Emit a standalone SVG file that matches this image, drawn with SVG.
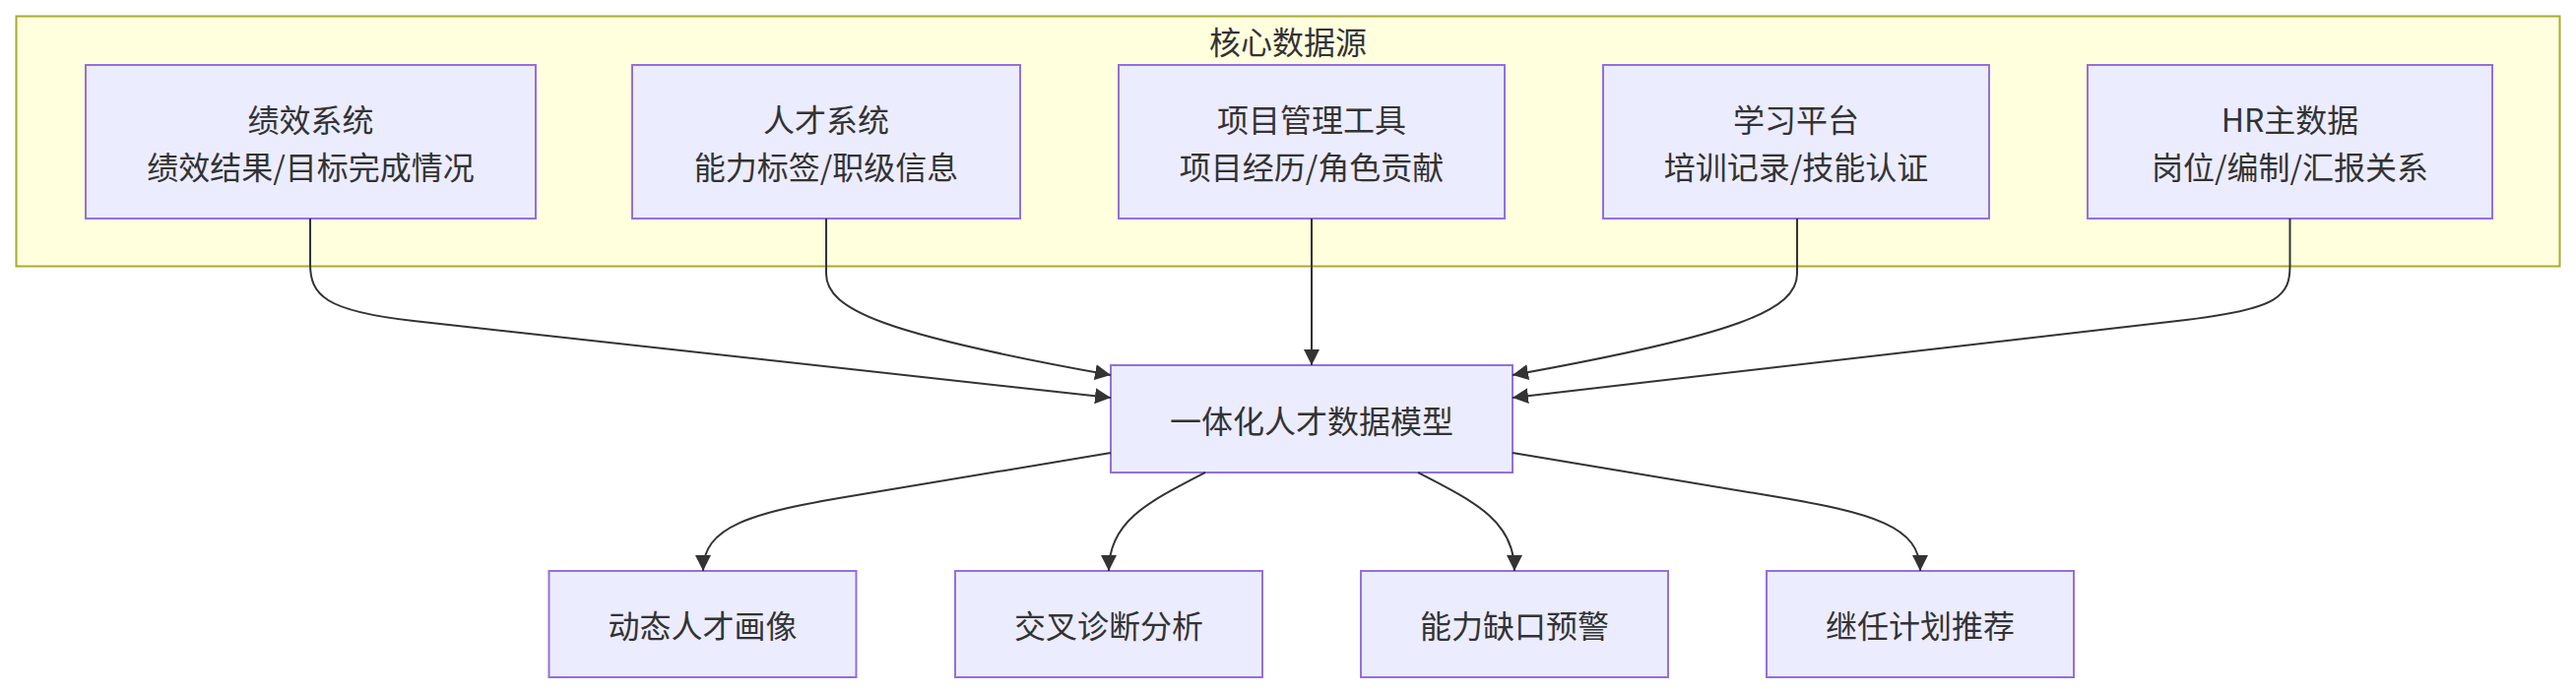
<svg xmlns="http://www.w3.org/2000/svg" width="2616" height="704" viewBox="0 0 2616 704">
<defs>
<style>
.cluster{fill:#ffffde;stroke:#aaaa33;stroke-width:2}
.node rect{fill:#ECECFF;stroke:#9370DB;stroke-width:2}
text{font-family:"Noto Sans CJK SC","Liberation Sans",sans-serif;font-size:32px;fill:#333;text-anchor:middle;dominant-baseline:central}
.edge{fill:none;stroke:#333;stroke-width:2;marker-end:url(#arrow)}
</style>
<marker id="arrow" viewBox="0 0 10 10" refX="10" refY="5" markerWidth="16" markerHeight="16" markerUnits="userSpaceOnUse" orient="auto">
<path d="M0,0 L10,5 L0,10 z" fill="#333"/>
</marker>
</defs>
<rect width="2616" height="704" fill="#ffffff"/>
<g id="cluster-core">
<rect class="cluster" x="16.5" y="16.5" width="2583" height="254"/>
<text x="1308" y="41">核心数据源</text>
</g>
<g id="node-perf" class="node">
<rect x="87" y="66" width="457" height="156"/>
<text x="315.5" y="120">绩效系统</text>
<text x="315.5" y="168">绩效结果/目标完成情况</text>
</g>
<g id="node-talent" class="node">
<rect x="642" y="66" width="394" height="156"/>
<text x="839" y="120">人才系统</text>
<text x="839" y="168">能力标签/职级信息</text>
</g>
<g id="node-project" class="node">
<rect x="1136" y="66" width="392" height="156"/>
<text x="1332" y="120">项目管理工具</text>
<text x="1332" y="168">项目经历/角色贡献</text>
</g>
<g id="node-learn" class="node">
<rect x="1628" y="66" width="392" height="156"/>
<text x="1824" y="120">学习平台</text>
<text x="1824" y="168">培训记录/技能认证</text>
</g>
<g id="node-hr" class="node">
<rect x="2120" y="66" width="411" height="156"/>
<text x="2325.5" y="120">HR主数据</text>
<text x="2325.5" y="168">岗位/编制/汇报关系</text>
</g>
<g id="node-model" class="node">
<rect x="1128" y="371" width="408" height="109"/>
<text x="1332" y="426">一体化人才数据模型</text>
</g>
<g id="node-portrait" class="node">
<rect x="557.5" y="580" width="312" height="108"/>
<text x="713.5" y="634">动态人才画像</text>
</g>
<g id="node-diag" class="node">
<rect x="970" y="580" width="312" height="108"/>
<text x="1126" y="634">交叉诊断分析</text>
</g>
<g id="node-gap" class="node">
<rect x="1382" y="580" width="312" height="108"/>
<text x="1538" y="634">能力缺口预警</text>
</g>
<g id="node-succ" class="node">
<rect x="1794" y="580" width="312" height="108"/>
<text x="1950" y="634">继任计划推荐</text>
</g>
<g id="connectors">
<path class="edge" d="M315,222 L315,268 C315,300 330,316 420,326 L1128,404"/>
<path class="edge" d="M839,222 L839,278 C839,315 900,340 1128,381"/>
<path class="edge" d="M1332,222 L1332,371"/>
<path class="edge" d="M1825,222 L1825,278 C1825,315 1764,340 1536,381"/>
<path class="edge" d="M2325.5,222 L2325.5,270 C2325.5,300 2315,314 2220,325 L1536,404"/>
<path class="edge" d="M1128,460 L870,503 C760,521 714,535 714,580"/>
<path class="edge" d="M1224,480 C1164,511 1126,530 1126,580"/>
<path class="edge" d="M1440,480 C1500,511 1538,530 1538,580"/>
<path class="edge" d="M1536,460 L1794,503 C1904,521 1950,535 1950,580"/>
</g>
</svg>
